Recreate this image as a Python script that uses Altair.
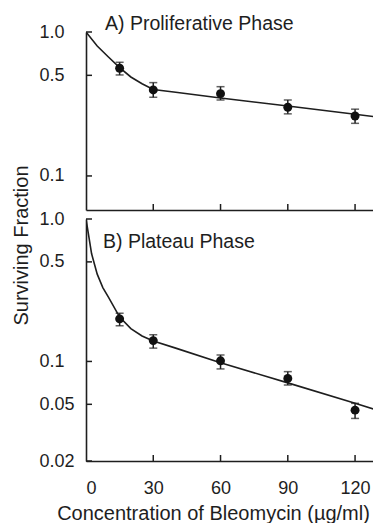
import altair as alt
import pandas as pd

# ---------------- data ----------------
# Panel A (Proliferative phase)
curveA_x = [0, 5, 10, 15, 20, 25, 30, 40, 60, 90, 120, 132]
curveA_y = [1.0, 0.80, 0.67, 0.565, 0.487, 0.437, 0.399, 0.381, 0.348, 0.306, 0.268, 0.254]
ptsA_x = [15, 30, 60, 90, 120]
ptsA_y = [0.56, 0.396, 0.373, 0.300, 0.261]
ptsA_lo = [0.503, 0.352, 0.337, 0.270, 0.232]
ptsA_hi = [0.616, 0.445, 0.417, 0.337, 0.291]

# Panel B (Plateau phase)
curveB_x = [0, 1, 2.5, 5, 7.5, 10, 15, 20, 25, 30, 40, 60, 90, 120, 132]
curveB_y = [1.0, 0.80, 0.57, 0.41, 0.33, 0.283, 0.205, 0.170, 0.151, 0.139, 0.124, 0.098, 0.0707, 0.0509, 0.0443]
ptsB_x = [15, 30, 60, 90, 120]
ptsB_y = [0.199, 0.140, 0.101, 0.076, 0.0455]
ptsB_lo = [0.178, 0.124, 0.0886, 0.0683, 0.0398]
ptsB_hi = [0.218, 0.154, 0.111, 0.0848, 0.0508]

# axes
x_domain = [0, 128]
x_tick_values = [0, 30, 60, 90, 120]
x_inner_ticks = [30, 60, 90, 120]
yA_domain = [0.058, 1.0]
yB_domain = [0.02, 1.0]
yA_ticks = [1.0, 0.5, 0.1]
yB_ticks = [1.0, 0.5, 0.1, 0.05, 0.02]

panel_labels = ["A) Proliferative Phase", "B) Plateau Phase"]
x_title = "Concentration of Bleomycin (\u00b5g/ml)"
y_title = "Surviving Fraction"

FONT = "Liberation Sans"
INK = "#1e1e1e"
W = 287
HA = 178
HB = 242
LABEL_EXPR = "datum.value >= 0.1 ? format(datum.value, '.1f') : format(datum.value, '.2f')"


def panel(cx, cy, px, py, plo, phi, ydom, h, yticks, label, lx, ly, bottom):
    curve = pd.DataFrame({"x": cx, "y": cy})
    pts = pd.DataFrame({"x": px, "y": py, "lo": plo, "hi": phi})
    xs = alt.Scale(domain=x_domain, nice=False, zero=False)
    ys = alt.Scale(type="log", domain=ydom, nice=False)

    if bottom:
        xaxis = alt.Axis(values=x_tick_values, grid=False, ticks=False, tickSize=0,
                         labelFontSize=18, labelFont=FONT, labelColor=INK, labelPadding=18,
                         domainColor=INK, domainWidth=1.6,
                         title=x_title, titleFont=FONT, titleFontSize=20, titleFontWeight="normal",
                         titleColor=INK, titleX=127, titleY=58, titleBaseline="alphabetic",
                         titleAlign="center")
        yaxis = alt.Axis(values=yticks, labelExpr=LABEL_EXPR, grid=False, ticks=False, tickSize=0,
                         labelAlign="left", labelPadding=47, labelFontSize=18, labelFont=FONT,
                         labelColor=INK, domainColor=INK, domainWidth=1.6,
                         title=y_title, titleFont=FONT, titleFontSize=20, titleFontWeight="normal",
                         titleColor=INK, titleAngle=270, titleX=-59, titleY=26,
                         titleBaseline="alphabetic", titleAlign="center")
    else:
        xaxis = alt.Axis(values=x_tick_values, labels=False, ticks=False, tickSize=0, grid=False,
                         title=None, domainColor=INK, domainWidth=1.6)
        yaxis = alt.Axis(values=yticks, labelExpr=LABEL_EXPR, grid=False, ticks=False, tickSize=0,
                         labelAlign="left", labelPadding=47, labelFontSize=18, labelFont=FONT,
                         labelColor=INK, domainColor=INK, domainWidth=1.6, title=None)

    line = alt.Chart(curve).mark_line(clip=True, color=INK, strokeWidth=1.6).encode(
        x=alt.X("x:Q", scale=xs, axis=xaxis),
        y=alt.Y("y:Q", scale=ys, axis=yaxis),
    )
    err = alt.Chart(pts).mark_errorbar(
        ticks={"size": 8, "thickness": 1.5, "color": INK}, thickness=1.5, color=INK
    ).encode(
        x=alt.X("x:Q", scale=xs, axis=xaxis),
        y=alt.Y("lo:Q", scale=ys, axis=yaxis),
        y2="hi:Q",
    )
    dots = alt.Chart(pts).mark_circle(size=80, color="#111111", opacity=1).encode(
        x=alt.X("x:Q", scale=xs, axis=xaxis),
        y=alt.Y("y:Q", scale=ys, axis=yaxis),
    )
    xt = alt.Chart(pd.DataFrame({"v": x_inner_ticks})).mark_rule(color=INK, strokeWidth=1.5).encode(
        x=alt.X("v:Q", scale=xs, axis=xaxis),
        y=alt.value(h),
        y2=alt.value(h - 6),
    )
    yt = alt.Chart(pd.DataFrame({"v": yticks})).mark_rule(color=INK, strokeWidth=1.5).encode(
        y=alt.Y("v:Q", scale=ys, axis=yaxis),
        x=alt.value(0),
        x2=alt.value(6),
    )
    txt = alt.Chart(pd.DataFrame({"t": [label]})).mark_text(
        align="left", baseline="middle", font=FONT, fontSize=19.5, color=INK
    ).encode(x=alt.value(lx), y=alt.value(ly), text="t:N")

    return alt.layer(line, err, dots, xt, yt, txt).properties(width=W, height=h)


pA = panel(curveA_x, curveA_y, ptsA_x, ptsA_y, ptsA_lo, ptsA_hi, yA_domain, HA, yA_ticks,
           panel_labels[0], 19, -8, False)
pB = panel(curveB_x, curveB_y, ptsB_x, ptsB_y, ptsB_lo, ptsB_hi, yB_domain, HB, yB_ticks,
           panel_labels[1], 17, 23, True)

chart = alt.vconcat(pA, pB, spacing=9, bounds="flush").resolve_scale(y="independent").properties(
    padding={"left": 2, "top": 6, "right": 0, "bottom": 0},
    background="white",
).configure_view(stroke=None)

chart.save("out.html", embed_options={"renderer": "svg", "actions": False})
